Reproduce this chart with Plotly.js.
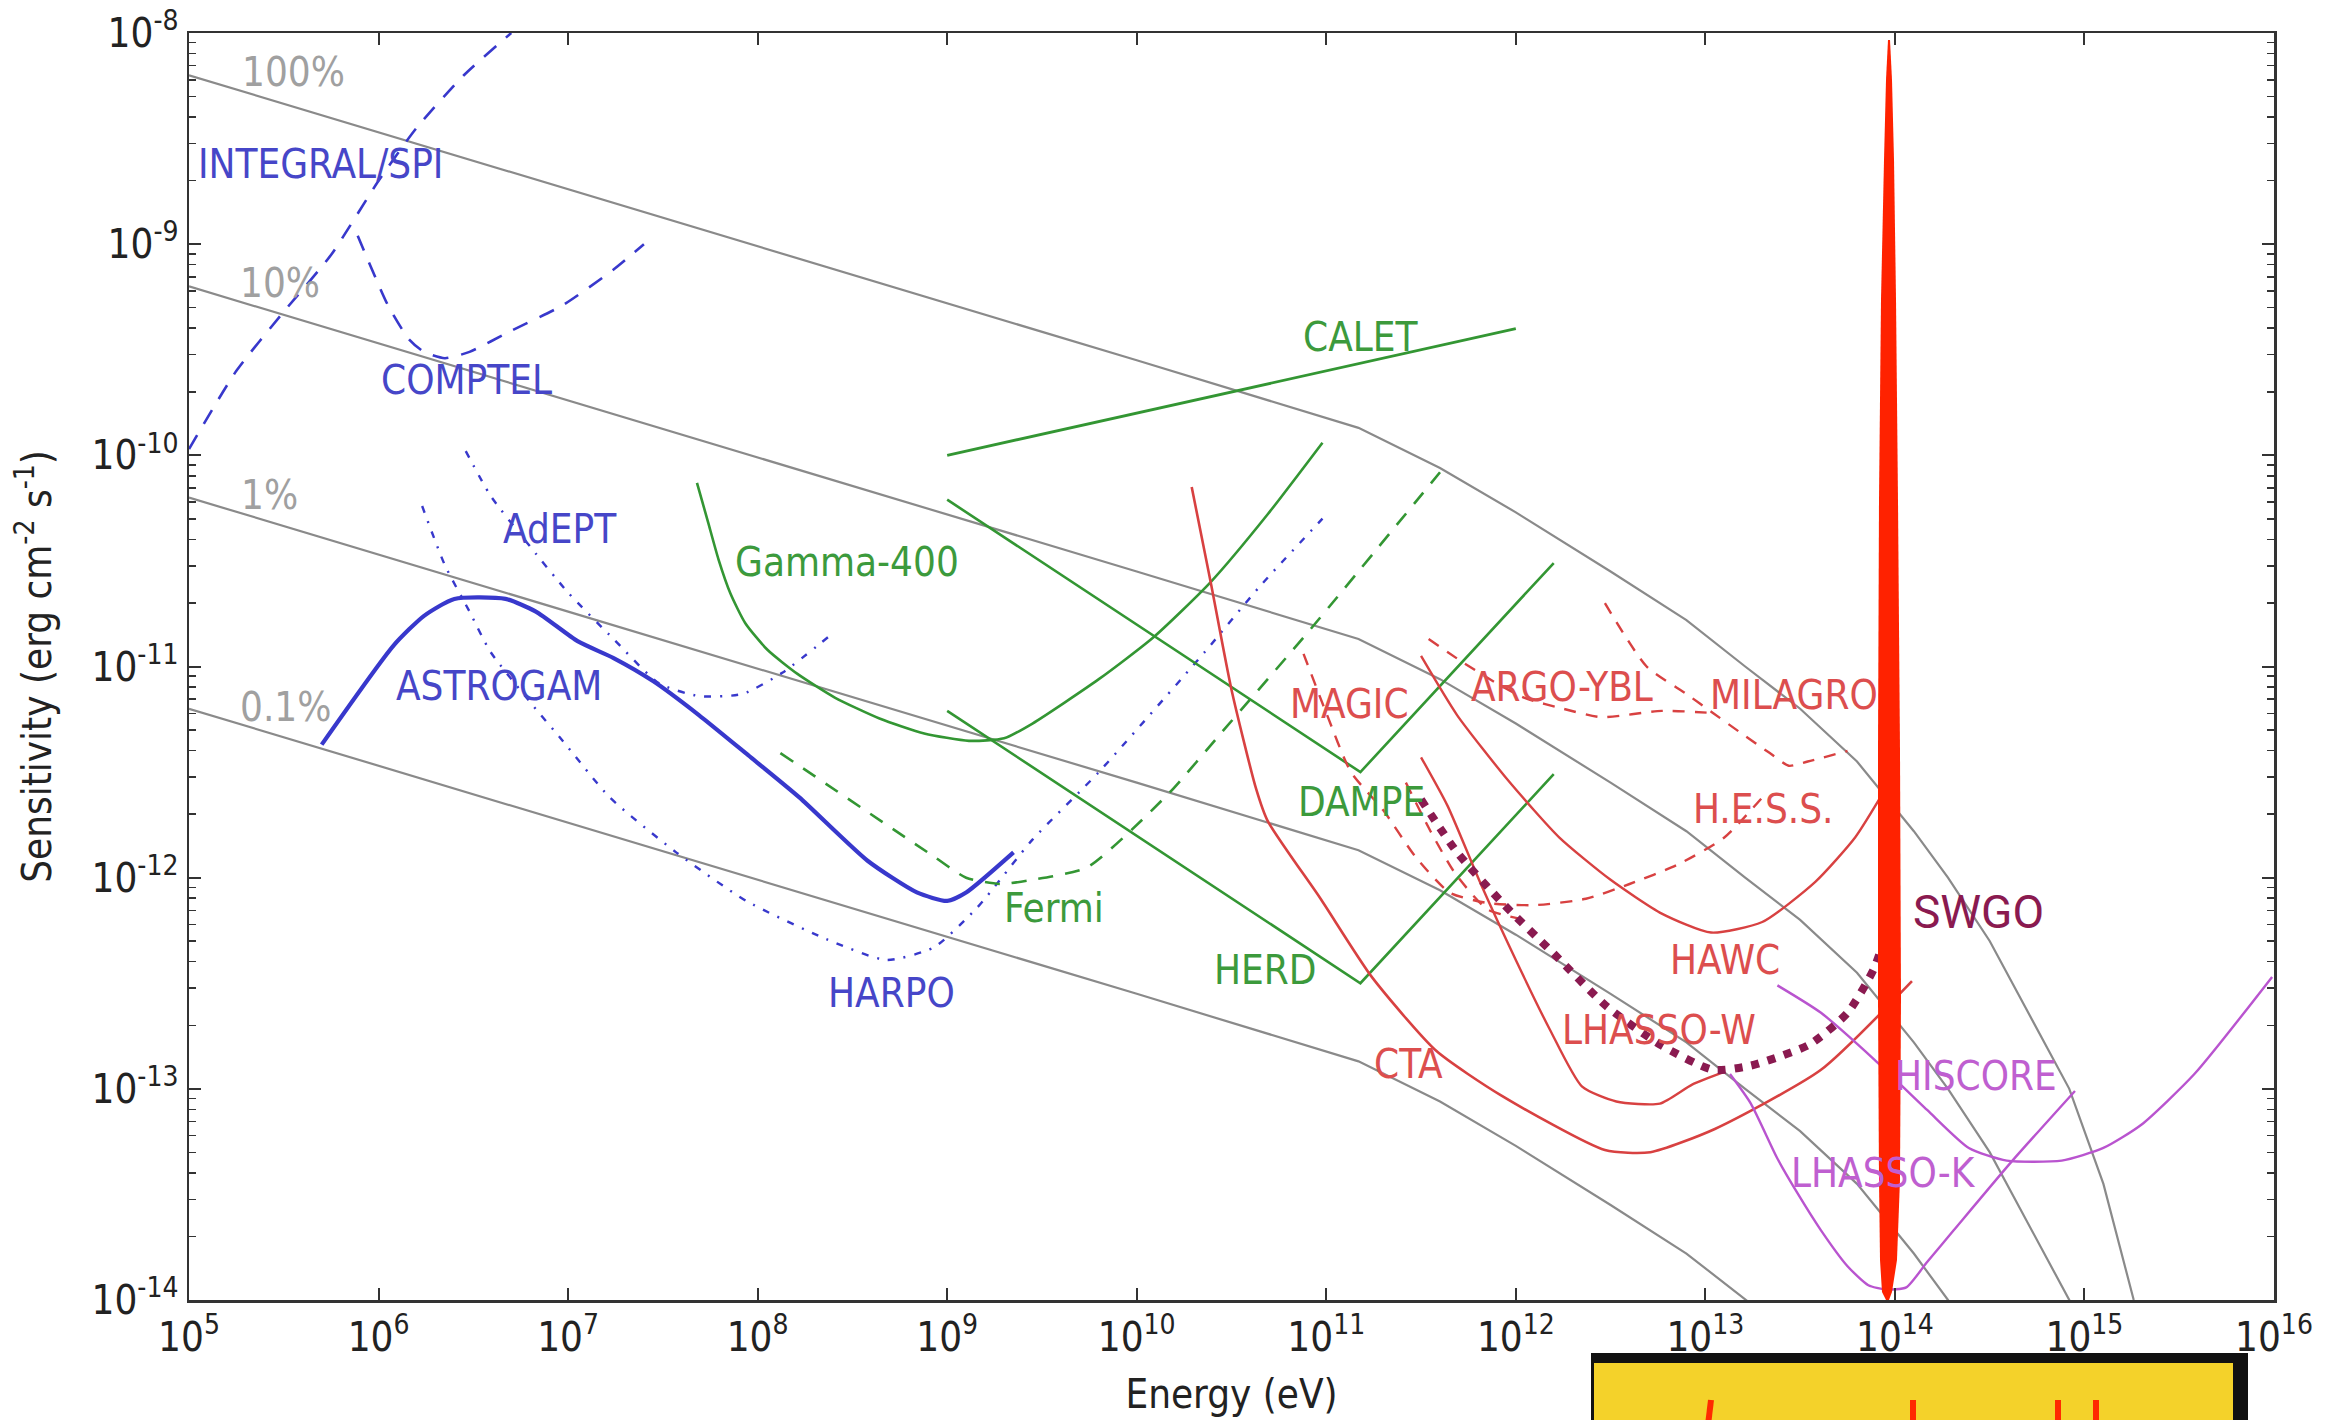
<!DOCTYPE html>
<html><head><meta charset="utf-8">
<script src="https://cdn.plot.ly/plotly-3.0.1.min.js"></script>
<style>html,body{margin:0;padding:0;background:#fff}#chart{width:2338px;height:1420px}</style>
</head><body><div id="chart"></div>
<script>
// ---------- DATA (log10 of energy in eV, log10 of sensitivity in erg cm^-2 s^-1) ----------
const energyTickExp = [5,6,7,8,9,10,11,12,13,14,15,16];
const sensTickExp = [-14,-13,-12,-11,-10,-9,-8];

const crabLogE = [5.0,6.0,7.0,8.0,9.0,10.0,11.17,11.6,12.0,12.5,12.9,13.21,13.5,13.8,14.1,14.28,14.5,14.7,14.92,15.1,15.26];
const crab100LogS = [-8.20,-8.47,-8.74,-9.01,-9.28,-9.55,-9.87,-10.06,-10.27,-10.55,-10.78,-11.0,-11.2,-11.45,-11.78,-12.0,-12.3,-12.63,-13.0,-13.45,-14.0];
const crab10LogS  = [-9.20,-9.47,-9.74,-10.01,-10.28,-10.55,-10.87,-11.06,-11.27,-11.55,-11.78,-12.0,-12.2,-12.45,-12.78,-13.0,-13.3,-13.63,-14.0,-14.45,-15.0];
const crab1LogS   = [-10.20,-10.47,-10.74,-11.01,-11.28,-11.55,-11.87,-12.06,-12.27,-12.55,-12.78,-13.0,-13.2,-13.45,-13.78,-14.0,-14.3,-14.63,-15.0,-15.45,-16.0];
const crab01LogS  = [-11.20,-11.47,-11.74,-12.01,-12.28,-12.55,-12.87,-13.06,-13.27,-13.55,-13.78,-14.0,-14.2,-14.45,-14.78,-15.0,-15.3,-15.63,-16.0,-16.45,-17.0];

const integralLogE = [5.0,5.25,5.5,5.75,6.0,6.2,6.45,6.7];
const integralLogS = [-9.97,-9.60,-9.32,-9.05,-8.70,-8.45,-8.20,-8.0];
const comptelLogE = [5.89,6.05,6.16,6.24,6.35,6.48,6.70,6.97,7.24,7.40];
const comptelLogS = [-8.96,-9.29,-9.45,-9.51,-9.54,-9.51,-9.41,-9.29,-9.12,-9.0];
const adeptLogE = [6.46,6.59,6.78,7.0,7.24,7.48,7.69,7.92,8.13,8.40];
const adeptLogS = [-9.98,-10.19,-10.41,-10.65,-10.87,-11.08,-11.14,-11.13,-11.03,-10.84];
const harpoLogE = [6.23,6.35,6.48,6.59,6.81,6.97,7.22,7.57,7.94,8.36,8.68,8.93,9.16,9.45,9.80,10.36,10.65,10.98];
const harpoLogS = [-10.24,-10.52,-10.74,-10.93,-11.18,-11.35,-11.62,-11.88,-12.11,-12.29,-12.39,-12.33,-12.14,-11.82,-11.50,-10.93,-10.62,-10.30];
const astrogamLogE = [5.70,6.08,6.24,6.40,6.67,6.83,7.05,7.24,7.45,7.69,7.95,8.22,8.58,8.84,9.0,9.10,9.35];
const astrogamLogS = [-11.37,-10.90,-10.76,-10.68,-10.68,-10.74,-10.88,-10.96,-11.07,-11.23,-11.42,-11.62,-11.92,-12.07,-12.11,-12.07,-11.88];

const gamma400LogE = [7.68,7.738,7.793,7.856,7.935,8.053,8.21,8.407,8.643,8.879,9.115,9.30,9.45,9.80,10.09,10.39,10.69,10.98];
const gamma400LogS = [-10.13,-10.315,-10.491,-10.653,-10.795,-10.922,-11.035,-11.147,-11.246,-11.317,-11.352,-11.34,-11.27,-11.06,-10.86,-10.60,-10.28,-9.94];
const fermiLogE = [8.12,8.93,9.10,9.28,9.45,9.74,10.17,10.45,10.92,11.60];
const fermiLogS = [-11.41,-11.90,-12.00,-12.03,-12.01,-11.95,-11.60,-11.31,-10.82,-10.08];
const caletLogE = [9.0,12.0];
const caletLogS = [-10.0,-9.40];
const dampeLogE = [9.0,11.18,12.20];
const dampeLogS = [-10.21,-11.50,-10.51];
const herdLogE = [9.0,11.18,12.20];
const herdLogS = [-11.21,-12.50,-11.51];

const ctaLogE = [10.29,10.39,10.50,10.63,10.69,10.97,11.24,11.58,11.92,12.47,12.71,13.05,13.61,14.09];
const ctaLogS = [-10.15,-10.60,-11.11,-11.58,-11.73,-12.10,-12.47,-12.82,-13.03,-13.29,-13.30,-13.19,-12.91,-12.49];
const lhaasoWLogE = [11.50,11.64,11.82,12.0,12.18,12.35,12.53,12.76,12.93,13.10];
const lhaasoWLogS = [-11.43,-11.66,-12.04,-12.39,-12.72,-12.99,-13.06,-13.07,-12.98,-12.92];
const hawcLogE = [11.50,11.69,11.96,12.23,12.50,12.77,13.03,13.30,13.58,13.79,13.95];
const hawcLogS = [-10.95,-11.23,-11.54,-11.81,-12.01,-12.17,-12.26,-12.21,-12.02,-11.81,-11.58];
const magicLogE = [10.88,11.0,11.13,11.30,11.47,11.65,11.85,12.1,12.37,12.6,12.85,13.1,13.32];
const magicLogS = [-10.94,-11.22,-11.50,-11.68,-11.90,-12.07,-12.12,-12.13,-12.10,-12.03,-11.94,-11.81,-11.60];
const hessLogE = [11.42,11.55,11.68,11.85,12.05];
const hessLogS = [-11.55,-11.78,-11.98,-12.15,-12.20];
const argoLogE = [11.54,11.72,11.90,12.05,12.25,12.45,12.77,13.04];
const argoLogS = [-10.87,-10.98,-11.08,-11.15,-11.20,-11.24,-11.21,-11.22];
const milagroLogE = [12.47,12.69,12.90,13.04,13.18,13.34,13.44,13.54,13.75];
const milagroLogS = [-10.70,-11.00,-11.13,-11.22,-11.31,-11.41,-11.47,-11.45,-11.40];

const lhaasoKLogE = [13.13,13.24,13.38,13.49,13.61,13.75,13.86,13.95,14.06,14.17,14.31,14.62,14.95];
const lhaasoKLogS = [-12.93,-13.07,-13.33,-13.50,-13.67,-13.84,-13.93,-13.95,-13.94,-13.82,-13.67,-13.34,-13.01];
const hiscoreLogE = [13.38,13.61,13.89,14.17,14.39,14.59,14.88,15.10,15.30,15.58,15.99];
const hiscoreLogS = [-12.51,-12.64,-12.86,-13.10,-13.28,-13.34,-13.34,-13.28,-13.17,-12.93,-12.47];

const swgoLogE = [11.50,11.69,11.94,12.20,12.48,12.76,13.04,13.24,13.55,13.75,13.89,13.98];
const swgoLogS = [-11.63,-11.88,-12.13,-12.36,-12.61,-12.79,-12.91,-12.89,-12.79,-12.64,-12.43,-12.18];

const labelText = ['100%','10%','1%','0.1%','INTEGRAL/SPI','COMPTEL','AdEPT','ASTROGAM','HARPO','Gamma-400','CALET','Fermi','DAMPE','HERD','MAGIC','ARGO-YBL','MILAGRO','H.E.S.S.','HAWC','LHASSO-W','CTA','HISCORE','LHASSO-K'];
const labelLogE = [5.551,5.480,5.425,5.511,5.692,6.463,6.959,6.637,8.706,8.470,11.184,9.563,11.184,10.681,11.121,12.246,13.466,13.308,13.104,12.758,11.436,14.426,13.938];
const labelLogS = [-8.183,-9.186,-10.188,-11.190,-8.621,-9.644,-10.350,-11.091,-12.545,-10.505,-9.440,-12.143,-11.641,-12.439,-11.176,-11.098,-11.133,-11.677,-12.390,-12.721,-12.884,-12.940,-13.399];
const labelGroup = ['g','g','g','g','b','b','b','b','b','G','G','G','G','G','r','r','r','r','r','r','r','p','p'];
const swgoLabel = {text:'SWGO', logE:14.441, logS:-12.164};

// ---------- STYLE ----------
const FONT = '"DejaVu Sans Condensed", "DejaVu Sans", sans-serif';
const C = {g:'#8a8a8a', b:'#3838cc', G:'#339633', r:'#d84141', p:'#b954cf', s:'#8a1a50'};
const TXT = {g:'#a0a0a0', b:'#4646c8', G:'#3c9a3c', r:'#dc4e4e', p:'#bf5fd0'};

const lin = a => a.map(v => Math.pow(10, v));
function tr(xl, yl, color, width, dash, shape) {
  return {x: lin(xl), y: lin(yl), type:'scatter', mode:'lines', hoverinfo:'skip',
    line:{color:color, width:width, dash:dash||'solid', shape:shape||'linear', smoothing:0.6}};
}

const traces = [
  tr(crabLogE, crab100LogS, C.g, 2.2), tr(crabLogE, crab10LogS, C.g, 2.2),
  tr(crabLogE, crab1LogS, C.g, 2.2), tr(crabLogE, crab01LogS, C.g, 2.2),
  tr(integralLogE, integralLogS, C.b, 2.6, '16px,13px', 'spline'),
  tr(comptelLogE, comptelLogS, C.b, 2.6, '16px,13px', 'spline'),
  tr(adeptLogE, adeptLogS, C.b, 2.4, '7px,9px,2px,9px', 'spline'),
  tr(harpoLogE, harpoLogS, C.b, 2.4, '7px,9px,2px,9px', 'spline'),
  tr(astrogamLogE, astrogamLogS, C.b, 4.2, 'solid', 'spline'),
  tr(gamma400LogE, gamma400LogS, C.G, 2.6, 'solid', 'spline'),
  tr(fermiLogE, fermiLogS, C.G, 2.6, '15px,12px', 'spline'),
  tr(caletLogE, caletLogS, C.G, 2.8), tr(dampeLogE, dampeLogS, C.G, 2.6), tr(herdLogE, herdLogS, C.G, 2.6),
  tr(ctaLogE, ctaLogS, C.r, 2.6, 'solid', 'spline'),
  tr(lhaasoWLogE, lhaasoWLogS, C.r, 2.4, 'solid', 'spline'),
  tr(hawcLogE, hawcLogS, C.r, 2.4, 'solid', 'spline'),
  tr(magicLogE, magicLogS, C.r, 2.4, '12px,10px', 'spline'),
  tr(hessLogE, hessLogS, C.r, 2.4, '12px,10px', 'spline'),
  tr(argoLogE, argoLogS, C.r, 2.4, '12px,10px', 'spline'),
  tr(milagroLogE, milagroLogS, C.r, 2.4, '12px,10px', 'spline'),
  tr(lhaasoKLogE, lhaasoKLogS, C.p, 2.4, 'solid', 'spline'),
  tr(hiscoreLogE, hiscoreLogS, C.p, 2.4, 'solid', 'spline'),
  tr(swgoLogE, swgoLogS, C.s, 8, '8px,9px', 'spline')
];

const annotations = labelText.map((t, i) => ({
  text: t, x: labelLogE[i], y: labelLogS[i], xref:'x', yref:'y', showarrow:false,
  xanchor:'center', yanchor:'middle', font:{family:FONT, size:40, color:TXT[labelGroup[i]]}
}));
annotations.push({text: swgoLabel.text, x: swgoLabel.logE, y: swgoLabel.logS, xref:'x', yref:'y',
  showarrow:false, xanchor:'center', yanchor:'middle', font:{family:'Roboto, "Liberation Sans", sans-serif', size:46, color:C.s}});

// ---------- overlay decorations (pixel -> paper) ----------
const PL = 189, PR = 2274, PT = 33, PB = 1300;
const px = v => (v - PL) / (PR - PL);
const py = v => (PB - v) / (PB - PT);
function pathFrom(pts) { return 'M ' + pts.map(p => px(p[0]).toFixed(5) + ',' + py(p[1]).toFixed(5)).join(' L ') + ' Z'; }
const redStroke = [[1890,40],[1892,80],[1894,160],[1896,300],[1898,500],[1900,750],[1901,1000],[1900,1180],[1897,1260],[1892,1292],[1889,1300],
  [1886,1300],[1882,1292],[1880,1260],[1879,1180],[1878,1000],[1878,750],[1879,500],[1881,300],[1884,160],[1886,80],[1888,40]];
const shapes = [
  {type:'path', xref:'paper', yref:'paper', path: pathFrom(redStroke), fillcolor:'#ff2200', line:{width:0}, layer:'above'},
  {type:'rect', xref:'paper', yref:'paper', x0:px(1591), x1:px(2248), y0:py(1353), y1:py(1440), fillcolor:'#111', line:{width:0}, layer:'above'},
  {type:'rect', xref:'paper', yref:'paper', x0:px(1594), x1:px(2233), y0:py(1363), y1:py(1440), fillcolor:'#f4d22a', line:{width:0}, layer:'above'}
];
[[1708,1711],[1913,1913],[2058,2058],[2096,2096]].forEach(m => shapes.push(
  {type:'line', xref:'paper', yref:'paper', x0:px(m[1]), x1:px(m[0]), y0:py(1400), y1:py(1425), line:{color:'#ff2a00', width:6}, layer:'above'}));

const minorY = [];
for (let d = -14; d < -8; d++) for (let m = 2; m <= 9; m++) minorY.push(m * Math.pow(10, d));

const axisCommon = {
  type:'log', showline:true, linecolor:'#333', linewidth:2.5, mirror:'allticks',
  ticks:'inside', ticklen:12, tickwidth:2, tickcolor:'#333', showgrid:false, zeroline:false,
  tickmode:'array', tickfont:{family:FONT, size:40, color:'#222'}
};

const layout = {
  width:2338, height:1420, margin:{l:PL, r:2338-PR, t:PT, b:1420-PB},
  paper_bgcolor:'#fff', plot_bgcolor:'#fff', showlegend:false,
  xaxis: Object.assign({}, axisCommon, {range:[5,16],
    tickvals: energyTickExp.map(e => Math.pow(10, e)),
    ticktext: energyTickExp.map(e => '10<sup>' + e + '</sup>'),
    title:{text:'Energy (eV)', font:{family:FONT, size:40, color:'#222'}, standoff:22}}),
  yaxis: Object.assign({}, axisCommon, {range:[-14,-8],
    tickvals: sensTickExp.map(e => Math.pow(10, e)),
    ticktext: sensTickExp.map(e => '10<sup>' + e + '</sup>'),
    minor:{tickvals:minorY, ticks:'inside', ticklen:7, tickwidth:1.5, tickcolor:'#333'},
    title:{text:'Sensitivity (erg cm<sup>-2</sup> s<sup>-1</sup>)', font:{family:FONT, size:40, color:'#222'}, standoff:28}}),
  annotations: annotations,
  shapes: shapes
};

Plotly.newPlot('chart', traces, layout, {displayModeBar:false, staticPlot:true});
</script></body></html>
